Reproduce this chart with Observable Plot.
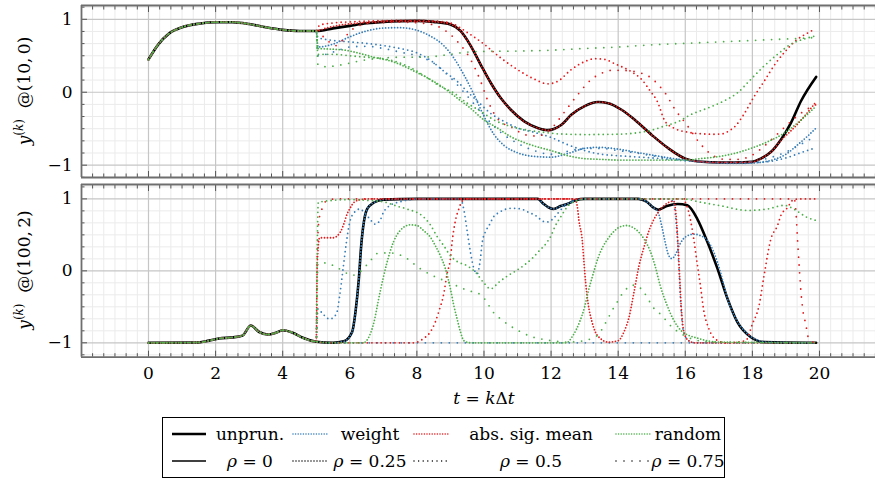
<!DOCTYPE html>
<html><head><meta charset="utf-8">
<script src="https://cdn.jsdelivr.net/npm/d3@7"></script>
<script src="https://cdn.jsdelivr.net/npm/@observablehq/plot@0.6"></script>
<style>
body{margin:0;background:#fff;overflow:hidden;font-family:"DejaVu Serif",serif;color:#000;}
#wrap{position:relative;width:875px;height:480px;overflow:hidden;}
.ylab{position:absolute;white-space:nowrap;font-size:17px;transform:translate(-50%,-50%) rotate(-90deg);}
.ylab sup{font-size:12px;vertical-align:7px;line-height:0;}
.lt{position:absolute;white-space:nowrap;font-size:17px;transform:translate(-50%,-50%);}
</style></head><body><div id="wrap"></div>
<script>
// ---------- data (t, y) ----------
const top_unprun = [[0,0.45],[0.3,0.66],[0.6,0.80],[1.0,0.89],[1.5,0.94],[2.0,0.96],[2.5,0.96],[3.0,0.935],[3.5,0.89],[4.0,0.855],[4.5,0.84],[5.0,0.84],[5.5,0.875],[6.0,0.91],[6.5,0.945],[7.0,0.965],[7.5,0.975],[8.0,0.978],[8.5,0.965],[9.0,0.93],[9.3,0.84],[9.6,0.64],[9.9,0.38],[10.2,0.13],[10.5,-0.08],[10.8,-0.24],[11.2,-0.40],[11.6,-0.49],[11.9,-0.52],[12.1,-0.5],[12.3,-0.45],[12.6,-0.31],[13.0,-0.19],[13.4,-0.134],[13.7,-0.15],[14.1,-0.24],[14.5,-0.38],[15.0,-0.585],[15.5,-0.77],[16.0,-0.91],[16.5,-0.954],[17.0,-0.963],[17.5,-0.963],[18.0,-0.955],[18.25,-0.91],[18.55,-0.82],[18.85,-0.65],[19.15,-0.42],[19.45,-0.12],[19.9,0.21]];
const top_w_025 = [[5,0.84],[5.05,0.62],[5.5,0.66],[6.0,0.76],[6.5,0.84],[7.0,0.88],[7.5,0.885],[8.0,0.85],[8.4,0.77],[8.8,0.64],[9.1,0.47],[9.4,0.24],[9.7,-0.03],[10.0,-0.33],[10.3,-0.58],[10.6,-0.73],[11.0,-0.83],[11.5,-0.88],[12.0,-0.89],[12.5,-0.84],[13.0,-0.77],[13.4,-0.755],[14.0,-0.78],[14.5,-0.82],[15.0,-0.86],[15.5,-0.9],[16.0,-0.93],[16.5,-0.955],[17.0,-0.97],[17.5,-0.975],[18.0,-0.97],[18.5,-0.94],[19.0,-0.85],[19.35,-0.72],[19.65,-0.6],[19.9,-0.49]];
const top_w_05 = [[5,0.84],[5.05,0.75],[5.5,0.71],[6.0,0.69],[6.5,0.67],[7.0,0.64],[7.5,0.6],[8.0,0.54],[8.4,0.44],[8.8,0.29],[9.2,0.15],[9.5,0.01],[9.8,-0.12],[10.2,-0.29],[10.6,-0.4],[11.0,-0.49],[11.5,-0.55],[12.0,-0.62],[12.5,-0.72],[13.0,-0.8],[13.5,-0.85],[14.0,-0.87],[15.0,-0.9],[16.0,-0.94],[17.0,-0.965],[18.0,-0.965],[18.5,-0.95],[19.0,-0.9],[19.5,-0.82],[19.9,-0.76]];
const top_w_075 = [[5,0.84],[5.05,0.5],[5.5,0.55],[6.0,0.62],[6.5,0.63],[7.0,0.6],[7.5,0.55],[8.0,0.5],[8.5,0.4],[9.0,0.2],[9.5,-0.05],[10.0,-0.32],[10.5,-0.55],[11.0,-0.7],[11.5,-0.8],[12.0,-0.85],[12.5,-0.81],[13.0,-0.77],[13.5,-0.77],[14.0,-0.8],[14.5,-0.83],[15.0,-0.87],[16.0,-0.93],[17.0,-0.96],[18.0,-0.95],[18.5,-0.9],[19.0,-0.82],[19.5,-0.7],[19.9,-0.6]];
const top_asm_025 = [[5,0.84],[5.3,0.88],[5.7,0.92],[6.2,0.945],[6.8,0.965],[7.5,0.975],[8.5,0.965],[9.0,0.93],[9.3,0.84],[9.6,0.64],[9.9,0.38],[10.2,0.13],[10.5,-0.08],[10.8,-0.24],[11.2,-0.40],[11.6,-0.49],[11.9,-0.52],[12.1,-0.5],[12.3,-0.45],[12.6,-0.31],[13.0,-0.19],[13.4,-0.134],[13.7,-0.15],[14.1,-0.24],[14.5,-0.38],[15.0,-0.585],[15.5,-0.77],[16.0,-0.91],[16.5,-0.954],[17.0,-0.963],[17.5,-0.963],[18.0,-0.955],[18.25,-0.91],[18.55,-0.82],[18.85,-0.66],[19.1,-0.55],[19.3,-0.46],[19.55,-0.33],[19.9,-0.13]];
const top_asm_05 = [[5,0.84],[5.1,0.92],[5.5,0.95],[6.0,0.965],[6.5,0.975],[7.0,0.982],[8.0,0.985],[8.5,0.978],[9.0,0.95],[9.5,0.82],[10.0,0.66],[10.5,0.47],[11.0,0.31],[11.5,0.18],[11.9,0.115],[12.2,0.15],[12.6,0.31],[13.0,0.42],[13.3,0.46],[13.6,0.45],[13.9,0.39],[14.4,0.28],[14.7,0.175],[14.96,0.014],[15.16,-0.12],[15.4,-0.40],[15.7,-0.5],[16.1,-0.55],[16.5,-0.57],[16.8,-0.576],[17.1,-0.57],[17.3,-0.53],[17.5,-0.46],[17.75,-0.3],[18.05,-0.06],[18.35,0.15],[18.7,0.4],[19.0,0.57],[19.3,0.71],[19.6,0.8],[19.8,0.85]];
const top_asm_075 = [[5,0.84],[5.3,0.72],[5.6,0.64],[5.9,0.78],[6.2,0.9],[6.7,0.95],[7.5,0.96],[8.3,0.94],[8.8,0.86],[9.2,0.7],[9.6,0.45],[9.9,0.15],[10.1,-0.1],[10.4,-0.36],[10.9,-0.5],[11.2,-0.58],[11.6,-0.6],[12.0,-0.5],[12.4,-0.27],[12.8,-0.03],[13.2,0.175],[13.5,0.26],[13.8,0.3],[14.1,0.3],[14.4,0.29],[14.7,0.26],[15.0,0.19],[15.2,0.1],[15.4,-0.01],[15.7,-0.24],[16.05,-0.45],[16.4,-0.68],[16.8,-0.86],[17.2,-0.92],[17.6,-0.92],[18.0,-0.86],[18.4,-0.72],[18.8,-0.55],[19.2,-0.38],[19.6,-0.24],[19.9,-0.17]];
const top_r_025 = [[5,0.84],[5.05,0.6],[5.5,0.59],[5.8,0.58],[6.4,0.52],[6.8,0.47],[7.2,0.43],[7.6,0.36],[8.0,0.27],[8.4,0.175],[8.8,0.06],[9.2,-0.08],[9.6,-0.22],[10.0,-0.38],[10.4,-0.49],[10.8,-0.61],[11.2,-0.69],[11.6,-0.75],[12.0,-0.8],[12.5,-0.87],[13.0,-0.91],[13.5,-0.92],[14.0,-0.93],[15.0,-0.93],[16.0,-0.93],[16.45,-0.91],[16.95,-0.885],[17.45,-0.84],[17.95,-0.77],[18.45,-0.68],[18.95,-0.56],[19.45,-0.38],[19.9,-0.19]];
const top_r_05 = [[5,0.84],[5.05,0.52],[5.5,0.52],[6.0,0.5],[6.5,0.48],[7.0,0.46],[7.3,0.43],[7.8,0.34],[8.3,0.2],[8.7,0.08],[9.1,-0.01],[9.5,-0.15],[9.9,-0.26],[10.3,-0.38],[10.8,-0.47],[11.3,-0.52],[11.8,-0.55],[12.2,-0.57],[13.0,-0.58],[14.0,-0.575],[14.5,-0.56],[15.0,-0.52],[15.4,-0.46],[15.8,-0.4],[16.15,-0.31],[16.65,-0.22],[17.15,-0.12],[17.55,-0.01],[17.95,0.175],[18.35,0.36],[18.75,0.52],[19.15,0.66],[19.55,0.73],[19.85,0.77]];
const top_r_075 = [[5,0.84],[5.05,0.38],[5.3,0.35],[5.8,0.38],[6.3,0.43],[7.0,0.47],[7.5,0.48],[8.0,0.48],[8.5,0.49],[9.0,0.52],[9.5,0.55],[10.0,0.56],[11.0,0.565],[12.0,0.576],[13.0,0.6],[14.0,0.62],[15.0,0.65],[16.0,0.67],[17.0,0.69],[18.0,0.71],[19.0,0.73],[19.9,0.75]];

const bot_unprun = [[0,-1.0],[1.5,-0.995],[1.8,-0.97],[2.1,-0.94],[2.5,-0.925],[2.8,-0.9],[3.05,-0.76],[3.3,-0.85],[3.55,-0.885],[3.8,-0.86],[4.0,-0.825],[4.3,-0.86],[4.6,-0.93],[5.0,-0.985],[5.5,-1.0],[5.82,-0.98],[6.07,-0.85],[6.17,-0.57],[6.27,-0.11],[6.34,0.35],[6.42,0.68],[6.52,0.86],[6.72,0.95],[7.0,0.99],[8.0,1.0],[11.6,1.0],[11.78,0.93],[11.93,0.88],[12.08,0.86],[12.28,0.9],[12.48,0.93],[12.73,0.98],[13.0,1.0],[14.6,1.0],[14.85,0.96],[15.05,0.88],[15.2,0.85],[15.45,0.9],[15.77,0.93],[16.06,0.91],[16.36,0.72],[16.66,0.40],[16.96,0.03],[17.26,-0.39],[17.55,-0.71],[17.95,-0.92],[18.35,-0.99],[19.9,-1.0]];
const bot_w_025 = [[5,-0.985],[5.5,-1.0],[5.82,-0.98],[6.07,-0.85],[6.17,-0.57],[6.27,-0.11],[6.34,0.35],[6.42,0.68],[6.52,0.86],[6.72,0.95],[7.0,0.99],[8.0,1.0],[11.6,1.0],[11.78,0.93],[11.93,0.88],[12.08,0.86],[12.28,0.9],[12.48,0.93],[12.73,0.98],[13.0,1.0],[14.6,1.0],[14.85,0.96],[15.05,0.88],[15.2,0.8],[15.3,0.62],[15.4,0.4],[15.5,0.22],[15.6,0.17],[15.7,0.22],[15.85,0.38],[16.0,0.47],[16.25,0.51],[16.45,0.49],[16.65,0.43],[16.85,0.26],[17.05,-0.02],[17.26,-0.39],[17.46,-0.62],[17.75,-0.83],[18.05,-0.94],[18.4,-0.99],[19.9,-1.0]];
const bot_w_05 = [[5,-0.985],[5.05,-0.53],[5.2,-0.6],[5.4,-0.67],[5.6,-0.6],[5.7,-0.34],[5.8,0.03],[5.9,0.4],[6.0,0.68],[6.15,0.82],[6.3,0.86],[6.45,0.8],[6.6,0.72],[6.75,0.65],[6.9,0.7],[7.0,0.81],[7.2,0.91],[7.5,0.96],[7.8,0.99],[8.1,1.0],[9.3,1.0],[9.4,0.85],[9.5,0.55],[9.6,0.25],[9.7,0.03],[9.8,-0.04],[9.88,0.12],[9.95,0.4],[10.05,0.55],[10.15,0.63],[10.3,0.76],[10.45,0.81],[10.6,0.85],[10.85,0.87],[11.1,0.86],[11.3,0.82],[11.6,0.75],[11.75,0.69],[11.9,0.68],[12.05,0.72],[12.2,0.8],[12.4,0.9],[12.6,0.96],[12.8,1.0],[15.5,1.0],[15.62,0.97],[15.7,0.8],[15.77,0.4],[15.82,-0.06],[15.87,-0.5],[15.95,-0.85],[16.1,-0.97],[16.3,-1.0],[19.9,-1.0]];
const bot_w_075 = [[5,-0.985],[5.5,-1.0],[12.0,-1.0],[19.9,-1.0]];
const bot_asm_025 = [[5,-0.985],[5.03,0.1],[5.1,0.46],[5.5,0.46],[5.72,0.54],[5.82,0.65],[5.92,0.79],[6.02,0.88],[6.12,0.95],[6.32,0.99],[6.6,1.0],[12.7,1.0],[12.78,0.9],[12.83,0.7],[12.93,0.42],[12.98,0.12],[13.03,-0.16],[13.1,-0.44],[13.22,-0.71],[13.32,-0.85],[13.47,-0.94],[13.7,-0.99],[14.0,-0.97],[14.17,-0.85],[14.32,-0.65],[14.47,-0.3],[14.62,0.07],[14.77,0.33],[14.92,0.56],[15.07,0.72],[15.27,0.86],[15.5,0.95],[15.65,0.97],[15.72,0.8],[15.78,0.4],[15.83,-0.06],[15.88,-0.5],[15.96,-0.85],[16.1,-0.97],[16.3,-1.0],[19.9,-1.0]];
const bot_asm_05 = [[5,-0.985],[5.5,-1.0],[7.9,-1.0],[8.2,-0.94],[8.4,-0.85],[8.55,-0.71],[8.65,-0.57],[8.8,-0.32],[8.9,-0.04],[9.0,0.17],[9.05,0.4],[9.15,0.7],[9.25,0.86],[9.35,0.97],[9.5,1.0],[15.9,1.0],[16.05,0.9],[16.15,0.72],[16.25,0.45],[16.35,0.12],[16.45,-0.2],[16.55,-0.55],[16.7,-0.8],[16.9,-0.95],[17.2,-1.0],[17.8,-0.97],[18.0,-0.74],[18.2,-0.48],[18.35,-0.06],[18.55,0.44],[18.75,0.63],[18.85,0.77],[19.05,0.88],[19.2,0.98],[19.4,1.0],[19.9,1.0]];
const bot_asm_075 = [[5,-0.985],[5.03,0.2],[5.08,0.7],[5.17,0.86],[5.32,0.98],[5.6,1.0],[19.25,1.0],[19.3,0.81],[19.35,0.4],[19.4,0.03],[19.45,-0.3],[19.5,-0.53],[19.6,-0.76],[19.65,-0.9],[19.75,-0.98],[19.9,-1.0]];
const bot_r_025 = [[5,-0.985],[5.5,-1.0],[6.4,-1.0],[6.5,-0.97],[6.7,-0.75],[6.9,-0.3],[7.1,0.1],[7.3,0.4],[7.5,0.56],[7.8,0.64],[8.0,0.63],[8.2,0.56],[8.4,0.47],[8.55,0.35],[8.7,0.21],[8.85,0.03],[9.0,-0.25],[9.1,-0.48],[9.2,-0.67],[9.3,-0.85],[9.4,-0.97],[9.6,-1.0],[12.45,-1.0],[12.65,-0.9],[12.85,-0.71],[13.0,-0.5],[13.1,-0.3],[13.25,-0.05],[13.4,0.18],[13.55,0.34],[13.7,0.45],[13.9,0.56],[14.1,0.62],[14.25,0.63],[14.45,0.6],[14.65,0.52],[14.8,0.42],[14.95,0.28],[15.1,0.07],[15.25,-0.2],[15.45,-0.47],[15.65,-0.68],[15.9,-0.84],[16.4,-0.94],[17.0,-0.99],[19.9,-1.0]];
const bot_r_05 = [[5,-0.985],[5.03,0.3],[5.06,0.95],[5.5,0.98],[6.0,0.99],[6.5,0.98],[7.0,0.96],[7.4,0.9],[7.7,0.86],[8.2,0.75],[8.4,0.64],[8.6,0.48],[8.8,0.35],[9.0,0.21],[9.2,0.13],[9.5,0.07],[9.75,-0.02],[10.0,-0.17],[10.2,-0.25],[10.44,-0.16],[10.7,-0.07],[10.95,0.0],[11.2,0.08],[11.45,0.18],[11.65,0.28],[11.85,0.38],[12.0,0.49],[12.12,0.62],[12.3,0.76],[12.5,0.9],[12.8,0.98],[13.0,1.0],[15.9,1.0],[16.5,0.95],[17.0,0.91],[17.85,0.84],[18.45,0.86],[18.95,0.91],[19.3,0.84],[19.6,0.75],[19.9,0.7]];
const bot_r_075 = [[5,-0.985],[5.05,0.1],[5.3,0.11],[5.6,0.05],[6.1,-0.06],[6.6,0.13],[6.8,0.24],[7.2,0.25],[7.6,0.2],[8.1,0.03],[8.4,-0.05],[9.0,-0.17],[9.5,-0.27],[9.9,-0.33],[10.05,-0.41],[10.25,-0.56],[10.5,-0.67],[10.8,-0.77],[11.1,-0.85],[11.45,-0.92],[11.75,-0.95],[12.0,-0.97],[12.5,-0.99],[13.0,-0.97],[13.2,-0.94],[13.43,-0.875],[13.58,-0.76],[13.72,-0.64],[13.82,-0.55],[13.97,-0.435],[14.12,-0.32],[14.27,-0.24],[14.42,-0.2],[14.57,-0.21],[14.72,-0.27],[14.87,-0.37],[15.0,-0.48],[15.3,-0.62],[15.6,-0.78],[15.9,-0.88],[16.3,-0.96],[16.8,-0.99],[19.9,-1.0]];

const xTickLabels = [0,2,4,6,8,10,12,14,16,18,20];
const yTickLabels = [-1,0,1];
const methods = ["weight","abs. sig. mean","random"];
const rhos = ["0.25","0.5","0.75"];

// ---------- styling ----------
const colors = {"weight":"#377eb8","abs. sig. mean":"#e41a1c","random":"#4daf4a"};
const dashes = {"0.25":"0 3","0.5":"0 4.6","0.75":"0 8"};
const FONT = "'DejaVu Serif', serif";
const xDomain = [-1.997, 21.67];
const xMinor = d3.range(-5, 66).map(k => k/3).filter(v => v > xDomain[0] && v < xDomain[1] && Math.abs(v/2 - Math.round(v/2)) > 1e-6);
const yMinorAll = d3.range(-7, 8).map(k => k/6).filter(v => Math.abs(v - Math.round(v)) > 1e-6);
const fmt = d => d < 0 ? "\u2212" + Math.abs(d) : String(d);
const toRows = arr => arr.map(([t, y]) => ({t, y}));

function buildPanel(unprun, sets, yDomain, height, marginBottom, withX) {
  const yMinor = yMinorAll.filter(v => v > yDomain[0] && v < yDomain[1]);
  const none = () => "";
  const marks = [
    Plot.ruleX(xMinor, {stroke: "#ebebeb", strokeWidth: 1}),
    Plot.ruleY(yMinor, {stroke: "#ebebeb", strokeWidth: 1}),
    Plot.ruleX(xTickLabels, {stroke: "#c6c6c6", strokeWidth: 1.2}),
    Plot.ruleY(yTickLabels, {stroke: "#c6c6c6", strokeWidth: 1.2}),
    Plot.axisX({anchor: "bottom", ticks: xMinor, tickSize: -3.5, tickFormat: none, label: null, stroke: "#555"}),
    Plot.axisX({anchor: "top", ticks: xMinor, tickSize: -3.5, tickFormat: none, label: null, stroke: "#555"}),
    Plot.axisX({anchor: "bottom", ticks: xTickLabels, tickSize: -6, tickFormat: none, label: null, stroke: "#555"}),
    Plot.axisX({anchor: "top", ticks: xTickLabels, tickSize: -6, tickFormat: none, label: null, stroke: "#555"}),
    Plot.axisY({anchor: "left", ticks: yMinor, tickSize: -3.5, tickFormat: none, label: null, stroke: "#555"}),
    Plot.axisY({anchor: "left", ticks: yTickLabels, tickSize: -6, tickFormat: none, label: null, stroke: "#555"}),
    Plot.axisY({anchor: "left", ticks: yTickLabels, tickSize: 0, tickPadding: 9, tickFormat: fmt, label: null, fontSize: 17}),
    Plot.ruleY([yDomain[0], yDomain[1]], {stroke: "#6e6e6e", strokeWidth: 1.8}),
    Plot.ruleX([xDomain[0]], {stroke: "#6e6e6e", strokeWidth: 1.8})
  ];
  if (withX) marks.push(Plot.axisX({anchor: "bottom", ticks: xTickLabels, tickSize: 0, tickPadding: 10, tickFormat: fmt, label: null, fontSize: 17}));
  marks.push(Plot.line(toRows(unprun), {x: "t", y: "y", stroke: "#000", strokeWidth: 2.6, curve: "monotone-x", strokeLinejoin: "round"}));
  for (const s of sets) {
    const pts = unprun.filter(d => d[0] < s.pts[0][0]).concat(s.pts);
    marks.push(Plot.line(toRows(pts), {x: "t", y: "y", stroke: colors[s.m], strokeWidth: 1.8,
      strokeDasharray: dashes[s.rho], strokeLinecap: "round", curve: "monotone-x"}));
  }
  return Plot.plot({
    width: 875, height, marginLeft: 81, marginRight: 0, marginTop: 5, marginBottom,
    x: {domain: xDomain}, y: {domain: yDomain},
    style: {fontFamily: FONT, fontSize: "17px", background: "transparent", overflow: "visible", color: "#000"},
    marks
  });
}

const topSets = [
  {m: "weight", rho: "0.25", pts: top_w_025}, {m: "weight", rho: "0.5", pts: top_w_05}, {m: "weight", rho: "0.75", pts: top_w_075},
  {m: "abs. sig. mean", rho: "0.25", pts: top_asm_025}, {m: "abs. sig. mean", rho: "0.5", pts: top_asm_05}, {m: "abs. sig. mean", rho: "0.75", pts: top_asm_075},
  {m: "random", rho: "0.25", pts: top_r_025}, {m: "random", rho: "0.5", pts: top_r_05}, {m: "random", rho: "0.75", pts: top_r_075}
];
const botSets = [
  {m: "weight", rho: "0.25", pts: bot_w_025}, {m: "weight", rho: "0.5", pts: bot_w_05}, {m: "weight", rho: "0.75", pts: bot_w_075},
  {m: "abs. sig. mean", rho: "0.25", pts: bot_asm_025}, {m: "abs. sig. mean", rho: "0.5", pts: bot_asm_05}, {m: "abs. sig. mean", rho: "0.75", pts: bot_asm_075},
  {m: "random", rho: "0.25", pts: bot_r_025}, {m: "random", rho: "0.5", pts: bot_r_05}, {m: "random", rho: "0.75", pts: bot_r_075}
];

const wrap = document.getElementById("wrap");
const p1 = buildPanel(top_unprun, topSets, [-1.169, 1.189], 182, 5, false);
p1.style.position = "absolute"; p1.style.left = "0px"; p1.style.top = "0px";
wrap.appendChild(p1);
const p2 = buildPanel(bot_unprun, botSets, [-1.2, 1.2], 212, 34.3, true);
p2.style.position = "absolute"; p2.style.left = "0px"; p2.style.top = "179px";
wrap.appendChild(p2);

// axis titles
function addHTML(html, cls, x, y) {
  const d = document.createElement("div");
  d.className = cls; d.innerHTML = html;
  d.style.left = x + "px"; d.style.top = y + "px";
  wrap.appendChild(d);
}
addHTML('<i>y</i><sup>(<i>k</i>)</sup>&nbsp; @(10,&#8201;0)', "ylab", 24, 91);
addHTML('<i>y</i><sup>(<i>k</i>)</sup>&nbsp; @(100,&#8201;2)', "ylab", 24, 270);
addHTML('<i>t</i> = <i>k</i>\u0394<i>t</i>', "lt", 484, 398);

// legend
const box = document.createElement("div");
box.style.cssText = "position:absolute;left:162px;top:417px;width:563px;height:61px;border:1.3px solid #000;box-sizing:border-box;background:#fff;";
wrap.appendChild(box);
function sample(x, y, stroke, width, dash) {
  const s = `<svg width="36" height="8" style="position:absolute;left:${x}px;top:${y-4}px;overflow:visible">` +
    `<line x1="1" y1="4" x2="35" y2="4" stroke="${stroke}" stroke-width="${width}" ${dash ? `stroke-dasharray="${dash}" stroke-linecap="round"` : ""}/></svg>`;
  wrap.insertAdjacentHTML("beforeend", s);
}
const colImg = [171, 292, 413, 615];
const colTxt = [250, 370, 531, 688];
const row = [434, 461];
sample(colImg[0], row[0], "#000", 2.6, null);
methods.forEach((m, i) => sample(colImg[i+1], row[0], colors[m], 1.6, "0 2.6"));
addHTML("unprun.", "lt", colTxt[0], row[0]);
methods.forEach((m, i) => addHTML(m, "lt", colTxt[i+1], row[0]));
sample(colImg[0], row[1], "#000", 1.6, null);
rhos.forEach((r, i) => sample(colImg[i+1], row[1], "#000", 1.5, dashes[r]));
addHTML('<i>\u03C1</i> = 0', "lt", colTxt[0], row[1]);
rhos.forEach((r, i) => addHTML(`<i>\u03C1</i> = ${r}`, "lt", colTxt[i+1], row[1]));
</script></body></html>
